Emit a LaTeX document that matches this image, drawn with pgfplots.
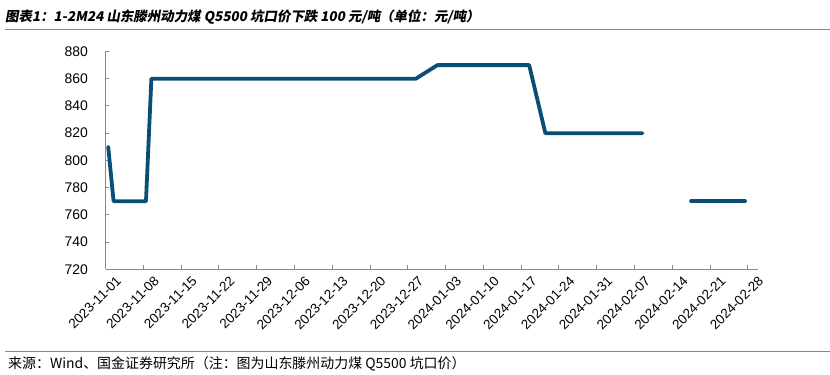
\documentclass[border=0pt]{standalone}
\usepackage{fontspec}
\usepackage{pgfplots}
\pgfplotsset{compat=1.18}
\setmainfont{Liberation Sans}
\newfontfamily\cjk{Noto Sans CJK SC}
\newfontfamily\cjktitle{Noto Sans CJK SC}[FakeSlant=0.18]
\definecolor{linecol}{RGB}{10,78,117}
\definecolor{axisgrey}{RGB}{137,137,137}
\definecolor{rulecol}{RGB}{104,142,178}
\begin{document}
\begin{tikzpicture}
\path[use as bounding box] (0,0) rectangle (830bp,375bp);
\node[anchor=west, inner sep=0] at (5bp,358bp) {\cjktitle\bfseries\fontsize{13.5}{13.5}\selectfont 图表1：1-2M24 山东滕州动力煤 Q5500 坑口价下跌 100 元/吨（单位：元/吨）};
\draw[rulecol, line width=1bp] (5bp,345.5bp) -- (830bp,345.5bp);
\draw[rulecol, line width=1bp] (5bp,23bp) -- (830bp,23bp);
\node[anchor=west, inner sep=0] at (8bp,11bp) {\cjk\fontsize{14}{14}\selectfont 来源：Wind、国金证券研究所（注：图为山东滕州动力煤 Q5500 坑口价）};
\begin{axis}[
  at={(105.5bp,105.7bp)}, anchor=south west,
  width=652.5bp, height=217.8bp, scale only axis,
  xmin=-0.5, xmax=120.4, ymin=720, ymax=880,
  ytick={720,740,760,780,800,820,840,860,880},
  xtick={-0.5,6.5,13.5,20.5,27.5,34.5,41.5,48.5,55.5,62.5,69.5,76.5,83.5,90.5,97.5,104.5,111.5,118.5},
  xticklabels={2023-11-01,2023-11-08,2023-11-15,2023-11-22,2023-11-29,2023-12-06,2023-12-13,2023-12-20,2023-12-27,2024-01-03,2024-01-10,2024-01-17,2024-01-24,2024-01-31,2024-02-07,2024-02-14,2024-02-21,2024-02-28},
  axis x line*=bottom, axis y line*=left,
  axis line style={draw=axisgrey, line width=0.9bp},
  tick style={draw=axisgrey, line width=0.9bp},
  tick align=inside, major tick length=4bp,
  ticklabel style={font=\fontsize{14}{14}\selectfont},
  yticklabel style={xshift=-14bp},
  x tick label style={rotate=45, anchor=north east, inner sep=1bp, xshift=4bp, yshift=-10bp, font=\fontsize{13.5}{13.5}\selectfont},
  /pgf/number format/assume math mode=true,
  /pgf/number format/set thousands separator={},
  clip=false,
]
\addplot[linecol, line width=3.8bp, line join=round, line cap=round] coordinates {
(0,810) (1,770) (7,770) (8,860) (57,860) (61,870) (78,870) (81,820) (99,820)
};
\addplot[linecol, line width=3.8bp, line join=round, line cap=round] coordinates {
(108,770) (118,770)
};
\end{axis}
\end{tikzpicture}
\end{document}
